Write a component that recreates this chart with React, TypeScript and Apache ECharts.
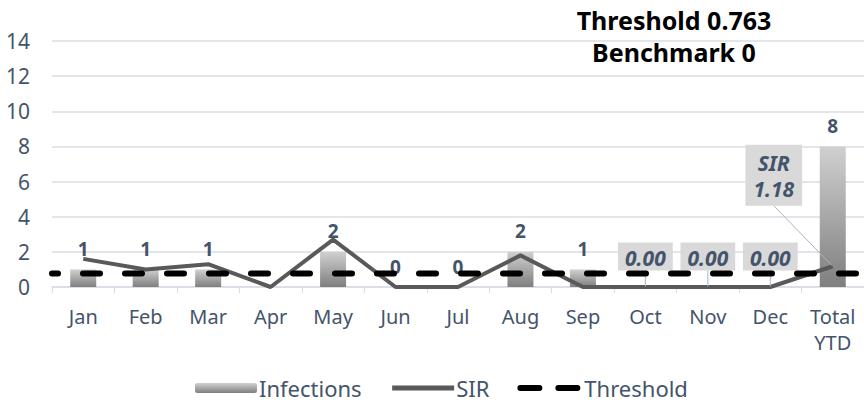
import React, { useEffect, useRef } from "react";
import * as echarts from "echarts";

const categories = ["Jan", "Feb", "Mar", "Apr", "May", "Jun", "Jul", "Aug", "Sep", "Oct", "Nov", "Dec", "Total\nYTD"];
const infections: (number | null)[] = [1, 1, 1, 0, 2, 0, 0, 2, 1, null, null, null, 8];
const infectionLabelShown = [true, true, true, false, true, true, true, true, true, false, false, false, true];
const sir = [1.6, 1.0, 1.3, 0, 2.7, 0, 0, 1.8, 0, 0, 0, 0, 1.18];
const sirLabelShown = [false, false, false, false, false, false, false, false, false, true, true, true, true];
const threshold = 0.763;
const benchmark = 0;
const yTicks = { min: 0, max: 14, interval: 2 };

const FONT = "Noto Sans";
const TEXT = "#44546a";

export default function App() {
  const ref = useRef<HTMLDivElement>(null);
  useEffect(() => {
    if (!ref.current) return;
    const chart = echarts.init(ref.current, undefined, { renderer: "svg" });
    const barGradient = new echarts.graphic.LinearGradient(0, 0, 0, 1, [
      { offset: 0, color: "#d0d0d0" },
      { offset: 1, color: "#7f7f7f" },
    ]);
    chart.setOption({
      animation: false,
      textStyle: { fontFamily: FONT },
      title: {
        text: `Threshold ${threshold}\nBenchmark ${benchmark}`,
        left: 674,
        top: 4,
        padding: 0,
        textAlign: "center",
        textStyle: { fontFamily: FONT, fontWeight: "bold", fontSize: 25, color: "#000", lineHeight: 32 },
      },
      legend: {
        left: 190,
        top: 372,
        itemWidth: 62,
        itemHeight: 10,
        itemGap: 28,
        textStyle: { fontFamily: FONT, fontSize: 22, color: TEXT, padding: [0, 0, 0, -3] },
        data: [
          { name: "Infections" },
          { name: "SIR", itemStyle: { opacity: 0 }, lineStyle: { width: 5, color: "#595959", type: "solid", opacity: 1 } },
          { name: "Threshold", itemStyle: { opacity: 0 }, lineStyle: { width: 6, color: "#000", type: [19, 19], dashOffset: 0, cap: "round", opacity: 1 } },
        ],
      },
      grid: { left: 52, right: -3, top: 41, bottom: 116, containLabel: false },
      xAxis: [
        {
          type: "category",
          data: categories,
          axisLine: { lineStyle: { color: "#d9dee6", width: 1.5 } },
          axisTick: { show: true, length: 6, lineStyle: { color: "#d9dee6" } },
          axisLabel: { fontFamily: FONT, fontSize: 20, color: TEXT, margin: 16, lineHeight: 26, interval: 0 },
        },
        {
          type: "category",
          data: categories,
          boundaryGap: false,
          show: false,
        },
      ],
      yAxis: {
        type: "value",
        min: yTicks.min,
        max: yTicks.max,
        interval: yTicks.interval,
        axisLine: { show: false },
        axisTick: { show: false },
        axisLabel: { fontFamily: FONT, fontSize: 21, color: TEXT, margin: 22 },
        splitLine: { lineStyle: { color: "#d9dee6", width: 1.5 } },
      },
      series: [
        {
          name: "Infections",
          type: "bar",
          barWidth: 26,
          itemStyle: { color: barGradient },
          data: infections.map((v, i) => ({
            value: v,
            label: {
              show: infectionLabelShown[i],
              position: "top",
              distance: 11,
              fontFamily: FONT,
              fontSize: 19,
              fontWeight: "bold",
              color: TEXT,
            },
          })),
          z: 2,
        },
        {
          name: "SIR",
          type: "line",
          symbol: "none",
          symbolSize: 1,
          showSymbol: true,
          lineStyle: { color: "#595959", width: 4 },
          itemStyle: { color: "rgba(0,0,0,0)" },
          data: sir.map((v, i) => ({
            value: v,
            symbol: sirLabelShown[i] ? "circle" : "none",
            label: {
              show: sirLabelShown[i],
              position: "top",
              distance: 16,
              formatter: i === 12 ? `SIR\n${v.toFixed(2)}` : v.toFixed(2),
              fontFamily: FONT,
              fontSize: 21,
              fontStyle: "italic",
              fontWeight: "bold",
              color: TEXT,
              backgroundColor: "#d9d9d9",
              padding: i === 12 ? [5, 8, 4, 8] : [2, 7, 0, 7],
              lineHeight: 26,
            },
          })),
          labelLayout: (params: any) =>
            params.dataIndex === 12 ? { dx: -59, dy: -44 } : {},
          labelLine: { show: true, lineStyle: { color: "#a6b4c8", width: 1 } },
          z: 3,
        },
        {
          name: "Threshold",
          type: "line",
          xAxisIndex: 1,
          symbol: "none",
          showSymbol: false,
          lineStyle: { color: "#000", width: 6, type: [17, 25], dashOffset: 11, cap: "round" },
          itemStyle: { color: "#000" },
          data: categories.map(() => threshold),
          z: 4,
        },
      ],
    });
    return () => chart.dispose();
  }, []);
  return <div ref={ref} style={{ width: 864, height: 403, position: "absolute", left: 0, top: 0 }} />;
}
